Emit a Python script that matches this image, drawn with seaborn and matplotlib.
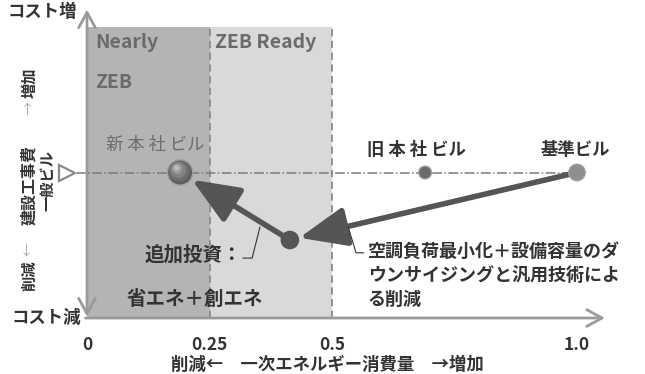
import numpy as np
import pandas as pd
import matplotlib
matplotlib.use("Agg")
import matplotlib.pyplot as plt
import seaborn as sns

# data
buildings = ["基準ビル", "旧本社ビル", "新本社ビル"]
energy = [1.0, 0.69, 0.19]       # primary energy (ratio to base building)
cost = [0.5, 0.5, 0.5]           # construction cost (base = 0.5)
mid_energy = 0.414               # after HVAC / downsizing step
mid_cost = 0.268

zone_start = [0.0, 0.25]
zone_width = [0.25, 0.25]
zone_colors = ["#b4b4b4", "#d9d9d9"]

xticks = [0, 0.25, 0.5, 1.0]
xtick_labels = ["0", "0.25", "0.5", "1.0"]

sns.set_style("white")
plt.rcParams["font.family"] = ["Noto Sans CJK JP", "DejaVu Sans"]

dark = "#333333"
mid_gray = "#555555"
axis_gray = "#9a9a9a"

fig = plt.figure(figsize=(6.45, 3.74), dpi=100)
ax = fig.add_axes([0, 0, 1, 1])
ax.set_xlim(-0.1776, 1.1388)
ax.set_ylim(-0.1924, 1.0928)
ax.axis("off")

# zones
ax.bar(zone_start, [1.0, 1.0], width=zone_width, align="edge",
       color=zone_colors, edgecolor="none", zorder=0)
for xv in [0.25, 0.5]:
    ax.plot([xv, xv], [0, 1.0], color="#8c8c8c", lw=1.3, ls=(0, (4, 2.5)), zorder=1)

ax.text(0.016, 0.948, "Nearly", fontsize=14, fontweight="bold", color="#6b6b6b",
        va="center", ha="left")
ax.text(0.016, 0.811, "ZEB", fontsize=14, fontweight="bold", color="#6b6b6b",
        va="center", ha="left")
ax.text(0.261, 0.948, "ZEB Ready", fontsize=14, fontweight="bold", color="#6b6b6b",
        va="center", ha="left")

# axes arrows
ax.annotate("", xy=(0, 1.06), xytext=(0, 0.005),
            arrowprops=dict(arrowstyle="<->,head_length=0.55,head_width=0.3",
                            color=axis_gray, lw=2, mutation_scale=20,
                            shrinkA=0, shrinkB=0), zorder=2)
ax.annotate("", xy=(1.057, 0), xytext=(-0.003, 0),
            arrowprops=dict(arrowstyle="->,head_length=0.55,head_width=0.3",
                            color=axis_gray, lw=2, mutation_scale=20,
                            shrinkA=0, shrinkB=0), zorder=2)

ax.text(-0.092, 1.052, "コスト増", fontsize=12.5, fontweight="bold", color=dark,
        ha="center", va="center")
ax.text(-0.084, 0.0, "コスト減", fontsize=12.5, fontweight="bold", color=dark,
        ha="center", va="center")

# y label (rotated)
ax.text(-0.118, 0.808, "増加", rotation=90, fontsize=11, fontweight="bold", color=dark,
        ha="center", va="center")
ax.text(-0.118, 0.722, "→", rotation=90, fontsize=10, color="#aaaaaa",
        ha="center", va="center")
ax.text(-0.118, 0.457, "建設工事費", rotation=90, fontsize=11.5, fontweight="bold", color=dark,
        ha="center", va="center")
ax.text(-0.081, 0.474, "一般ビル", rotation=90, fontsize=11, fontweight="bold", color=dark,
        ha="center", va="center")
ax.text(-0.118, 0.238, "←", rotation=90, fontsize=10, color="#aaaaaa",
        ha="center", va="center")
ax.text(-0.118, 0.145, "削減", rotation=90, fontsize=11, fontweight="bold", color=dark,
        ha="center", va="center")

# general building reference line
ax.plot([-0.022, 1.0], [0.5, 0.5], color="#7a7a7a", lw=1.1, ls="-.", zorder=2)
ax.plot([-0.041], [0.5], marker=">", ms=12, mfc="white", mec="#8a8a8a", mew=1.6,
        ls="none", zorder=3)

# step arrows
ax.annotate("", xy=(mid_energy, mid_cost), xytext=(energy[0], cost[0]),
            arrowprops=dict(arrowstyle="-|>,head_length=1.45,head_width=0.6",
                            color=mid_gray, lw=4, mutation_scale=20,
                            shrinkA=0, shrinkB=7), zorder=4)
ax.annotate("", xy=(energy[2], cost[2]), xytext=(mid_energy, mid_cost),
            arrowprops=dict(arrowstyle="-|>,head_length=1.45,head_width=0.6",
                            color=mid_gray, lw=4, mutation_scale=20,
                            shrinkA=0, shrinkB=10), zorder=4)

# building points
df = pd.DataFrame({"building": buildings, "energy": energy, "cost": cost})
sns.scatterplot(data=df, x="energy", y="cost", hue="building", size="building",
                palette={"基準ビル": "#8e8e8e", "旧本社ビル": "#6a6a6a", "新本社ビル": "#5e5e5e"},
                sizes={"基準ビル": 140, "旧本社ビル": 85, "新本社ビル": 330},
                edgecolor="#a0a0a0", linewidth=1.0, legend=False, ax=ax, zorder=5)
# shading on the new building sphere
for s, c, dx, dy in [(220, "#6e6e6e", -0.002, 0.005), (130, "#828282", -0.004, 0.009),
                     (55, "#9c9c9c", -0.006, 0.013), (15, "#bdbdbd", -0.007, 0.016)]:
    ax.scatter([energy[2] + dx], [cost[2] + dy], s=s, color=c, edgecolor="none", zorder=6)
ax.scatter([mid_energy], [mid_cost], s=180, color=mid_gray, edgecolor="none", zorder=5)

# building labels
ax.text(0.139, 0.595, "新 本 社 ビル", fontsize=12.5, color="#6b6b6b",
        ha="center", va="center")
ax.text(0.673, 0.577, "旧 本 社 ビル", fontsize=12.5, fontweight="bold", color=dark,
        ha="center", va="center")
ax.text(0.996, 0.577, "基準ビル", fontsize=12.5, fontweight="bold", color=dark,
        ha="center", va="center")

# annotations with leader lines
ax.plot([0.353, 0.337, 0.318], [0.313, 0.206, 0.206], color=dark, lw=0.8, zorder=4)
ax.plot([0.533, 0.549, 0.565], [0.313, 0.224, 0.224], color=dark, lw=0.8, zorder=4)

ax.text(0.216, 0.216, "追加投資：", fontsize=14, fontweight="bold", color=dark,
        ha="center", va="center")
ax.text(0.220, 0.064, "省エネ＋創エネ", fontsize=14, fontweight="bold", color=dark,
        ha="center", va="center")
ax.text(0.573, 0.262, "空調負荷最小化＋設備容量のダ\nウンサイジングと汎用技術によ\nる削減",
        fontsize=13, fontweight="bold", color=dark, ha="left", va="top", linespacing=1.35)

# x tick labels and label
for xv, lab in zip(xticks, xtick_labels):
    ax.text(xv, -0.093, lab, fontsize=12.5, fontweight="bold", color=dark,
            ha="center", va="center")
ax.text(0.49, -0.161, "削減←　一次エネルギー消費量　→増加", fontsize=12.5,
        fontweight="bold", color=dark, ha="center", va="center")

fig.savefig("out.png", dpi=100)
